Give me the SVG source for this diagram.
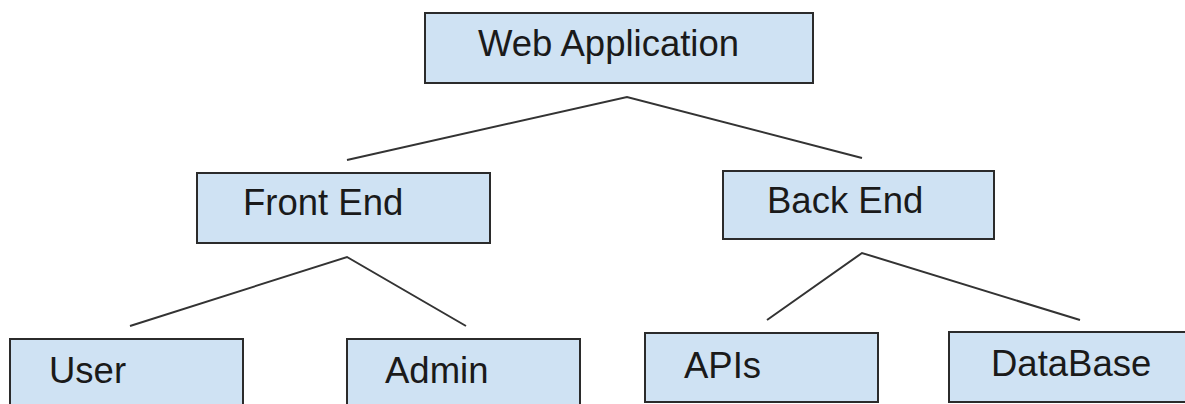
<svg xmlns="http://www.w3.org/2000/svg" width="1185" height="404" viewBox="0 0 1185 404">
<style>
.box{fill:#cfe2f3;stroke:#2b2b2b;stroke-width:2}
.lbl{font-family:"Liberation Sans",Arial,sans-serif;font-size:36.5px;fill:#1a1a1a}
.edge{fill:none;stroke:#333333;stroke-width:2}
</style>
<rect x="0" y="0" width="1185" height="404" fill="#ffffff"/>
<g id="connectors">
<polyline class="edge" points="347,160 627,97 862,158"/>
<polyline class="edge" points="130,326 347,257 466,326"/>
<polyline class="edge" points="767,320 862,253 1080,320"/>
</g>
<g id="web-application">
<rect class="box" x="425" y="13" width="388" height="70"/>
<text class="lbl" x="478" y="56">Web Application</text>
</g>
<g id="front-end">
<rect class="box" x="197" y="173" width="293" height="70"/>
<text class="lbl" x="243" y="215">Front End</text>
</g>
<g id="back-end">
<rect class="box" x="723" y="171" width="271" height="68"/>
<text class="lbl" x="767" y="213">Back End</text>
</g>
<g id="user">
<rect class="box" x="10" y="339" width="233" height="80"/>
<text class="lbl" x="49" y="383">User</text>
</g>
<g id="admin">
<rect class="box" x="347" y="339" width="233" height="80"/>
<text class="lbl" x="385" y="383">Admin</text>
</g>
<g id="apis">
<rect class="box" x="645" y="333" width="233" height="69"/>
<text class="lbl" x="684" y="378">APIs</text>
</g>
<g id="database">
<rect class="box" x="949" y="332" width="250" height="70"/>
<text class="lbl" x="991" y="376">DataBase</text>
</g>
</svg>
